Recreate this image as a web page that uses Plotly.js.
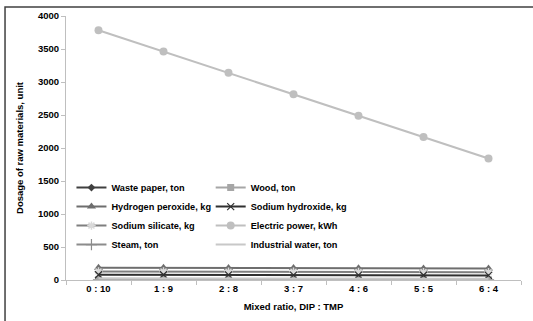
<!DOCTYPE html>
<html><head><meta charset="utf-8">
<script src="https://cdn.plot.ly/plotly-3.0.1.min.js"></script>
<style>html,body{margin:0;padding:0;background:#fff}#chart{width:533px;height:321px}</style>
</head><body><div id="chart"></div>
<script>
const categories = ['0 : 10','1 : 9','2 : 8','3 : 7','4 : 6','5 : 5','6 : 4'];
const wastePaper = [0, 0.1, 0.2, 0.3, 0.4, 0.5, 0.6];
const wood = [2.5, 2.25, 2.0, 1.75, 1.5, 1.25, 1.0];
const hydrogenPeroxide = [185, 184, 182, 180, 178, 176, 175];
const sodiumHydroxide = [80, 79, 77, 75, 73, 72, 70];
const sodiumSilicate = [130, 128, 126, 124, 122, 120, 118];
const electricPower = [3785, 3462, 3140, 2815, 2490, 2165, 1840];
const steam = [1.6, 1.5, 1.4, 1.3, 1.2, 1.1, 1.0];
const industrialWater = [25, 24, 23, 22, 21, 20, 19];

const lf = {family: 'Liberation Sans, Arial, sans-serif', size: 9.2, color: '#000', weight: 'bold'};
function tr(name, y, color, marker, legend){
  const t = {x: categories, y: y, name: name, type: 'scatter', mode: marker ? 'lines+markers' : 'lines',
    line: {color: color, width: 2}, legend: legend};
  if (marker) t.marker = marker;
  return t;
}
const data = [
  tr('Waste paper, ton', wastePaper, '#404040', {symbol:'diamond', size:6, color:'#404040'}, 'legend'),
  tr('Hydrogen peroxide, kg', hydrogenPeroxide, '#6e6e6e', {symbol:'triangle-up', size:8, color:'#6e6e6e'}, 'legend'),
  tr('Sodium silicate, kg', sodiumSilicate, '#7f7f7f', {symbol:'asterisk-open', size:7, color:'#d9d9d9', line:{width:1.5, color:'#d9d9d9'}}, 'legend'),
  tr('Steam, ton', steam, '#8c8c8c', {symbol:'cross-thin-open', size:8, line:{width:1.2, color:'#8c8c8c'}}, 'legend'),
  tr('Wood, ton', wood, '#a6a6a6', {symbol:'square', size:7, color:'#a6a6a6'}, 'legend2'),
  tr('Sodium hydroxide, kg', sodiumHydroxide, '#303030', {symbol:'x-thin-open', size:7, line:{width:1.2, color:'#bfbfbf'}}, 'legend2'),
  tr('Electric power, kWh', electricPower, '#bfbfbf', {symbol:'circle', size:8, color:'#bfbfbf'}, 'legend2'),
  tr('Industrial water, ton', industrialWater, '#c8c8c8', null, 'legend2')
];
const layout = {
  width: 533, height: 321,
  margin: {l: 66, r: 12, t: 16, b: 41},
  paper_bgcolor: '#fff', plot_bgcolor: '#fff',
  showlegend: true,
  font: {family: 'Liberation Sans, Arial, sans-serif', size: 9.5, color: '#000'},
  xaxis: {type: 'category', showgrid: false, showline: true, linecolor: '#bfbfbf', linewidth: 1,
    ticks: 'outside', ticklen: 4, tickcolor: '#bfbfbf', tickson: 'boundaries', range: [-0.5, 6.5],
    tickfont: {size: 9.5, weight: 'bold'},
    title: {text: 'Mixed ratio, DIP : TMP', font: {size: 9.5, weight: 'bold'}, standoff: 9}},
  yaxis: {range: [0, 4000], dtick: 500, showgrid: false, zeroline: false, showline: true, linecolor: '#bfbfbf',
    ticks: 'outside', ticklen: 4, tickcolor: '#bfbfbf', tickfont: {size: 9.5, weight: 'bold'},
    title: {text: 'Dosage of raw materials, unit', font: {size: 9.5, weight: 'bold'}, standoff: 12}},
  legend: {x: 0.012, y: 0.405, xanchor: 'left', yanchor: 'top', bgcolor: 'rgba(0,0,0,0)', font: lf, tracegroupgap: 0},
  legend2: {x: 0.318, y: 0.405, xanchor: 'left', yanchor: 'top', bgcolor: 'rgba(0,0,0,0)', font: lf, tracegroupgap: 0},
  shapes: [{type: 'rect', xref: 'paper', yref: 'paper', x0: -0.134, x1: 1.1, y0: -0.3, y1: 1.034,
    line: {color: '#404040', width: 1.5}, fillcolor: 'rgba(0,0,0,0)'}]
};
Plotly.newPlot('chart', data, layout, {displayModeBar: false, staticPlot: true});
</script></body></html>
